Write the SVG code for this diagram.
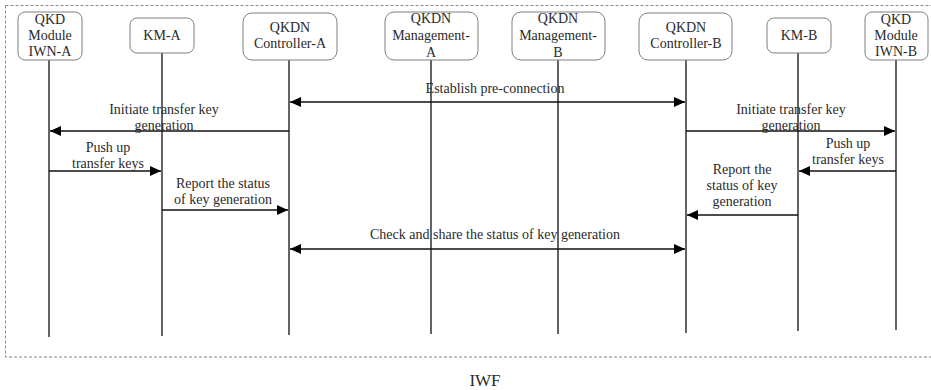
<svg xmlns="http://www.w3.org/2000/svg" width="931" height="390" viewBox="0 0 931 390">
<style>
.node rect{fill:#fff;stroke:#7f7f7f;stroke-width:1}
.node text,.lbl{font-family:"Liberation Serif","Times New Roman",serif;font-size:14px;fill:#2a2a2a;text-anchor:middle}
.life{stroke:#222;stroke-width:1.4}
.msg{stroke:#111;stroke-width:1.4;fill:none}
</style>
<defs>
<marker id="ah" viewBox="0 0 11 10" refX="11" refY="5" markerWidth="11" markerHeight="10" markerUnits="userSpaceOnUse" orient="auto-start-reverse">
<path d="M0,0 L11,5 L0,10 Z" fill="#000"/>
</marker>
</defs>
<rect x="5.5" y="5.5" width="940" height="351.5" fill="none" stroke="#8a8a8a" stroke-width="1" stroke-dasharray="3,2"/>
<g id="lifelines">
<line class="life" x1="49" y1="60" x2="49" y2="337"/>
<line class="life" x1="162" y1="53" x2="162" y2="336"/>
<line class="life" x1="289" y1="60" x2="289" y2="335"/>
<line class="life" x1="431" y1="60" x2="431" y2="334"/>
<line class="life" x1="558" y1="60" x2="558" y2="334"/>
<line class="life" x1="686" y1="60" x2="686" y2="333"/>
<line class="life" x1="798" y1="53" x2="798" y2="331"/>
<line class="life" x1="896" y1="60" x2="896" y2="330"/>
</g>
<g id="qkd-a" class="node"><rect x="18" y="12" width="64" height="48" rx="7"/><text x="50" y="24">QKD</text><text x="50" y="40">Module</text><text x="50" y="56">IWN-A</text></g>
<g id="km-a" class="node"><rect x="130" y="18" width="64" height="35" rx="7"/><text x="162" y="40">KM-A</text></g>
<g id="ctrl-a" class="node"><rect x="243" y="13" width="94" height="47" rx="9"/><text x="290" y="32">QKDN</text><text x="290" y="48">Controller-A</text></g>
<g id="mgmt-a" class="node"><rect x="385" y="12" width="93" height="48" rx="9"/><text x="431" y="23">QKDN</text><text x="431" y="40">Management-</text><text x="431" y="57">A</text></g>
<g id="mgmt-b" class="node"><rect x="512" y="12" width="93" height="48" rx="9"/><text x="558" y="23">QKDN</text><text x="558" y="40">Management-</text><text x="558" y="57">B</text></g>
<g id="ctrl-b" class="node"><rect x="639" y="13" width="93" height="47" rx="9"/><text x="686" y="32">QKDN</text><text x="686" y="48">Controller-B</text></g>
<g id="km-b" class="node"><rect x="767" y="18" width="64" height="35" rx="7"/><text x="799" y="40">KM-B</text></g>
<g id="qkd-b" class="node"><rect x="865" y="12" width="63" height="48" rx="7"/><text x="896" y="24">QKD</text><text x="896" y="40">Module</text><text x="896" y="56">IWN-B</text></g>
<g id="connectors">
<line class="msg" x1="290" y1="102" x2="685" y2="102" marker-start="url(#ah)" marker-end="url(#ah)"/>
<line class="msg" x1="289" y1="131" x2="50" y2="131" marker-end="url(#ah)"/>
<line class="msg" x1="686" y1="131" x2="895" y2="131" marker-end="url(#ah)"/>
<line class="msg" x1="49" y1="171" x2="161" y2="171" marker-end="url(#ah)"/>
<line class="msg" x1="896" y1="171" x2="799" y2="171" marker-end="url(#ah)"/>
<line class="msg" x1="162" y1="210" x2="288" y2="210" marker-end="url(#ah)"/>
<line class="msg" x1="798" y1="215" x2="687" y2="215" marker-end="url(#ah)"/>
<line class="msg" x1="290" y1="249" x2="685" y2="249" marker-start="url(#ah)" marker-end="url(#ah)"/>
</g>
<g id="labels">
<text class="lbl" x="495" y="93">Establish pre-connection</text>
<text class="lbl" x="164" y="114">Initiate transfer key</text>
<text class="lbl" x="164" y="130">generation</text>
<text class="lbl" x="791" y="114">Initiate transfer key</text>
<text class="lbl" x="791" y="130">generation</text>
<text class="lbl" x="108" y="152">Push up</text>
<text class="lbl" x="108" y="168">transfer keys</text>
<text class="lbl" x="848" y="148">Push up</text>
<text class="lbl" x="848" y="164">transfer keys</text>
<text class="lbl" x="223" y="188">Report the status</text>
<text class="lbl" x="223" y="204">of key generation</text>
<text class="lbl" x="742" y="174">Report the</text>
<text class="lbl" x="742" y="190">status of key</text>
<text class="lbl" x="742" y="206">generation</text>
<text class="lbl" x="495" y="239">Check and share the status of key generation</text>
<text class="lbl" x="485" y="386" style="font-size:17px">IWF</text>
</g>
</svg>
